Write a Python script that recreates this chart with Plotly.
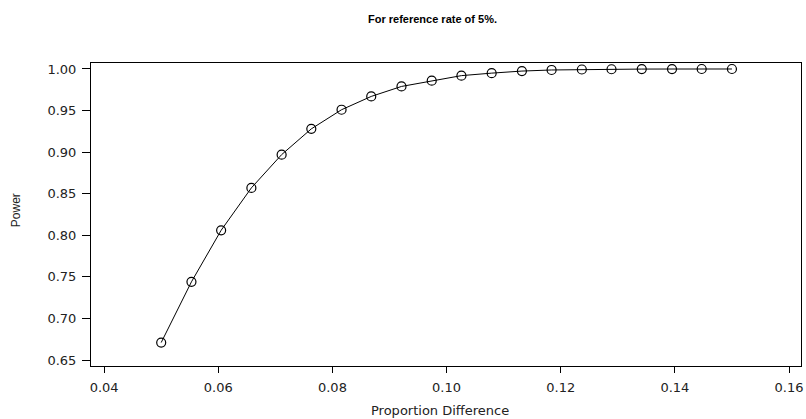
import plotly.graph_objects as go

# Data
prop_diff = [0.0500, 0.0553, 0.0605, 0.0658, 0.0711, 0.0763, 0.0816, 0.0868, 0.0921, 0.0974,
             0.1026, 0.1079, 0.1132, 0.1184, 0.1237, 0.1289, 0.1342, 0.1395, 0.1447, 0.1500]
power = [0.671, 0.744, 0.806, 0.857, 0.897, 0.928, 0.951, 0.967, 0.979, 0.986,
         0.992, 0.995, 0.9975, 0.9988, 0.9994, 0.9997, 0.9999, 0.99995, 1.0, 1.0]
x_ticks = [0.04, 0.06, 0.08, 0.10, 0.12, 0.14, 0.16]
y_ticks = [0.65, 0.70, 0.75, 0.80, 0.85, 0.90, 0.95, 1.00]

title_text = "For reference rate of 5%."
x_title = "Proportion Difference"
y_title = "Power"

tick_font = dict(family="DejaVu Sans", size=13, color="#222222")

fig = go.Figure()
fig.add_trace(go.Scatter(
    x=prop_diff, y=power, mode="lines+markers",
    line=dict(color="black", width=1),
    marker=dict(symbol="circle-open", size=9, color="black", line=dict(width=1.2)),
    showlegend=False,
))

fig.update_layout(
    width=806, height=419,
    margin=dict(l=91, r=3, t=63, b=53),
    paper_bgcolor="white", plot_bgcolor="white",
    xaxis=dict(range=[0.0377, 0.1621], tickvals=x_ticks,
               ticktext=[f"{v:.2f}" for v in x_ticks],
               showgrid=False, zeroline=False, showline=True, mirror=True,
               linecolor="black", linewidth=1, ticks="outside", ticklen=6,
               tickcolor="black", tickfont=tick_font, ticklabelstandoff=3),
    yaxis=dict(range=[0.6428, 1.0072], tickvals=y_ticks,
               ticktext=[f"{v:.2f}" for v in y_ticks],
               showgrid=False, zeroline=False, showline=True, mirror=True,
               linecolor="black", linewidth=1, ticks="outside", ticklen=8,
               tickcolor="black", tickfont=tick_font, ticklabelstandoff=3),
    annotations=[
        dict(text="<b>" + title_text + "</b>", xref="paper", yref="paper",
             x=(433 - 91) / (806 - 94), y=1 + (63 - 19) / 303, showarrow=False,
             xanchor="center", yanchor="middle",
             font=dict(family="Liberation Sans", size=11, color="black")),
        dict(text=x_title, xref="paper", yref="paper",
             x=(441 - 91) / (806 - 94), y=-(410 - 366) / 303, showarrow=False,
             xanchor="center", yanchor="middle",
             font=dict(family="DejaVu Sans", size=13, color="#222222")),
        dict(text=y_title, xref="paper", yref="paper", textangle=-90,
             x=-(91 - 16) / (806 - 94), y=(366 - 210) / 303, showarrow=False,
             xanchor="center", yanchor="middle",
             font=dict(family="Liberation Sans", size=12, color="#222222")),
    ],
)

fig.write_html("out.html")
